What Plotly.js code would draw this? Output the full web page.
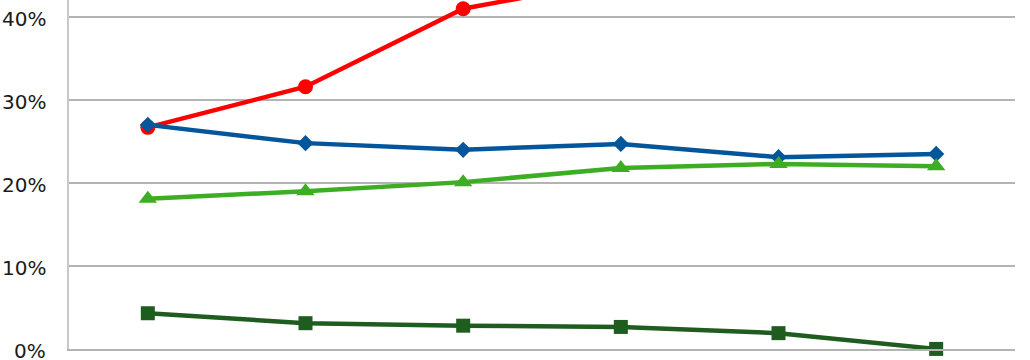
<!DOCTYPE html>
<html>
<head>
<meta charset="utf-8">
<script src="https://cdn.plot.ly/plotly-3.0.1.min.js"></script>
<style>html,body{margin:0;padding:0;background:#fff}#chart{width:1030px;height:360px}</style>
</head>
<body>
<div id="chart"></div>
<script>
// Category labels are not visible in the reference (cropped)
const categories = ["1", "2", "3", "4", "5", "6"];
const redSeries = [26.7, 31.6, 41.0, 44.5, 47.0, 49.0];
const blueSeries = [27.0, 24.8, 24.0, 24.7, 23.1, 23.5];
const greenSeries = [18.1, 19.0, 20.1, 21.8, 22.3, 22.0];
const darkGreenSeries = [4.3, 3.1, 2.8, 2.65, 1.9, 0.0];
const yTickVals = [0, 10, 20, 30, 40];
const yTickText = ["0%", "10%", "20%", "30%", "40%"];

function tr(y, color, symbol, size) {
  return {
    x: categories, y: y, type: "scatter", mode: "lines+markers",
    line: {color: color, width: 4.5},
    marker: {color: color, symbol: symbol, size: size},
    cliponaxis: false, showlegend: false, hoverinfo: "skip"
  };
}
const data = [
  tr(redSeries, "#FF0000", "circle", 15),
  tr(blueSeries, "#03569B", "diamond", 12.5),
  tr(greenSeries, "#3DAE23", "triangle-up", 16),
  tr(darkGreenSeries, "#1F5C1F", "square", 14)
];
// red line must be clipped at plot top
data[0].cliponaxis = true;

// y tick labels placed via the y axis scale
const annotations = yTickVals.map((v, i) => ({
  xref: "paper", yref: "y", x: 0, y: v, xanchor: "right", yanchor: "middle",
  xshift: -21, yshift: -2, text: yTickText[i], showarrow: false,
  font: {size: 20, color: "#1a1a1a", family: "DejaVu Sans, Verdana, sans-serif"}
}));

const layout = {
  width: 1030, height: 360,
  margin: {l: 69, r: 15, t: 0, b: 11, pad: 0},
  paper_bgcolor: "#fff", plot_bgcolor: "#fff",
  font: {family: "DejaVu Sans, Verdana, sans-serif", color: "#1a1a1a", size: 20},
  xaxis: {
    type: "category", range: [-0.5, 5.5], showticklabels: false,
    showgrid: false, zeroline: false, showline: true, linecolor: "#B4B4B4", linewidth: 2,
    ticks: ""
  },
  yaxis: {
    range: [-0.01, 42.05], tickvals: yTickVals, showticklabels: false,
    showgrid: true, gridcolor: "#B4B4B4", gridwidth: 1.5,
    zeroline: false, showline: true, linecolor: "#C8C8C8", linewidth: 2,
    ticks: ""
  },
  annotations: annotations
};
Plotly.newPlot("chart", data, layout, {staticPlot: true, displayModeBar: false});
</script>
</body>
</html>
